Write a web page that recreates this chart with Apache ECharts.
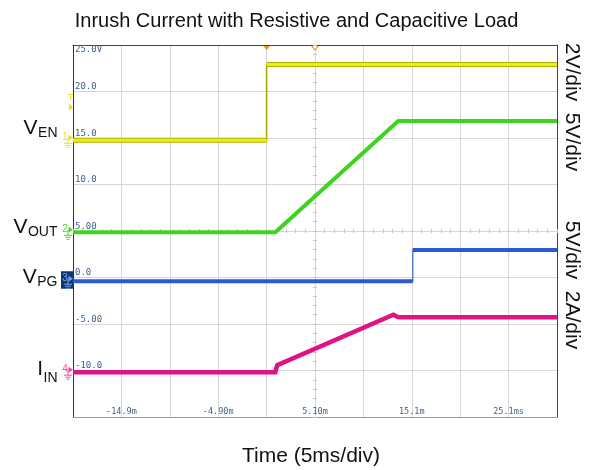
<!DOCTYPE html>
<html>
<head>
<meta charset="utf-8">
<script src="https://cdn.jsdelivr.net/npm/echarts@6/dist/echarts.min.js"></script>
<style>
  html, body { margin: 0; padding: 0; background: #fff; }
  #chart { width: 593px; height: 470px; }
</style>
</head>
<body>
<div id="chart"></div>
<script>
// ---- data (time in ms from the left edge of the screen, 5 ms/div) ----
const timeEN = [0, 20.0, 20.0, 50];
const valEN = [14.75, 14.75, 22.9, 22.9];
const timeOUT = [0, 20.9, 33.6, 50];
const valOUT = [4.86, 4.86, 16.83, 16.83];
const timePG = [0, 35.1, 35.1, 50];
const valPG = [-0.4, -0.4, 2.95, 2.95];
const timeIN = [0, 20.9, 21.1, 33.1, 33.6, 50];
const valIN = [-10.18, -10.18, -9.42, -4.0, -4.27, -4.27];

const yTickValues = [-15, -10, -5, 0, 5, 10, 15, 20, 25];
const yTickLabels = ['', '-10.0', '-5.00', '0.0', '5.00', '10.0', '15.0', '20.0', '25.0V'];
const xTickLabels = ['', '-14.9m', '', '-4.90m', '', '5.10m', '', '15.1m', '', '25.1ms', ''];

// ---- layout ----
const GRID = { left: 73, top: 45, width: 484, height: 372 };
const FONT = '"Liberation Sans", Arial, sans-serif';
const MONO = '"DejaVu Sans Mono", monospace';
const LABEL_COLOR = '#3f5f8f';
const GRID_COLOR = '#d6d6d6';

const zip = (t, v) => t.map((x, i) => [x, v[i]]);
// break a trace where it jumps vertically (drawn thin separately)
const breakSteps = (t, v) => {
    const out = [];
    t.forEach((x, i) => {
        if (i > 0 && x === t[i - 1]) out.push([x, '-']);
        out.push([x, v[i]]);
    });
    return out;
};
const yLabel = (v) => {
    const i = yTickValues.indexOf(Math.round(v));
    return i < 0 ? '' : yTickLabels[i];
};

const chart = echarts.init(document.getElementById('chart'));

const lineSeries = (data, color, width, z) => ({
    type: 'line',
    data: data,
    showSymbol: false,
    symbol: 'none',
    connectNulls: false,
    silent: true,
    z: z,
    lineStyle: { color: color, width: width, cap: 'butt', join: 'miter' }
});

chart.setOption({
    animation: false,
    backgroundColor: '#fff',
    title: {
        text: 'Inrush Current with Resistive and Capacitive Load',
        left: 'center',
        top: 6,
        textStyle: { fontFamily: FONT, fontSize: 20, fontWeight: 'normal', color: '#111' }
    },
    grid: Object.assign({ show: false, outerBoundsMode: 'none' }, GRID),
    xAxis: [
        {
            type: 'value', min: 0, max: 50, interval: 5,
            axisLine: { show: true, onZero: false, lineStyle: { color: '#999', width: 1 } },
            axisTick: { show: false },
            splitLine: { show: true, lineStyle: { color: GRID_COLOR, width: 1 } },
            axisLabel: {
                inside: true, margin: 1, verticalAlign: 'bottom',
                fontFamily: MONO, fontSize: 8.5, color: LABEL_COLOR,
                formatter: (v) => xTickLabels[Math.round(v / 5)] || ''
            }
        },
        {
            // minor ticks on the horizontal centre line
            type: 'value', min: 0, max: 50, interval: 1, position: 'top',
            offset: -(GRID.height / 2 + 2),
            axisLine: { show: false, onZero: false }, axisLabel: { show: false }, splitLine: { show: false },
            axisTick: { show: true, length: 4, lineStyle: { color: '#c4c4c4' } }
        },
        {
            type: 'value', min: 0, max: 50, position: 'top',
            axisLine: { show: true, onZero: false, lineStyle: { color: '#444' } },
            axisLabel: { show: false }, axisTick: { show: false }, splitLine: { show: false }
        }
    ],
    yAxis: [
        {
            type: 'value', min: -15, max: 25, interval: 5, position: 'left',
            axisLine: { show: true, onZero: false, lineStyle: { color: '#333', width: 1 } },
            axisTick: { show: false },
            splitLine: { show: true, lineStyle: { color: GRID_COLOR, width: 1 } },
            axisLabel: {
                inside: true, margin: 2, align: 'left', verticalAlign: 'bottom',
                fontFamily: MONO, fontSize: 9, color: LABEL_COLOR,
                formatter: (v) => (v >= 25 ? '' : yLabel(v))
            }
        },
        {
            // top label sits under the top edge
            type: 'value', min: -15, max: 25, interval: 5, position: 'left',
            axisLine: { show: false, onZero: false }, axisTick: { show: false }, splitLine: { show: false },
            axisLabel: {
                inside: true, margin: 2, align: 'left', verticalAlign: 'top',
                fontFamily: MONO, fontSize: 9, color: LABEL_COLOR,
                formatter: (v) => (v >= 25 ? yLabel(v) : '')
            }
        },
        {
            // minor ticks on the vertical centre line
            type: 'value', min: -15, max: 25, interval: 1, position: 'left',
            offset: -(GRID.width / 2 + 2),
            axisLine: { show: false, onZero: false }, axisLabel: { show: false }, splitLine: { show: false },
            axisTick: { show: true, length: 4, lineStyle: { color: '#c4c4c4' } }
        },
        {
            type: 'value', min: -15, max: 25, position: 'right',
            axisLine: { show: true, onZero: false, lineStyle: { color: '#444' } },
            axisLabel: { show: false }, axisTick: { show: false }, splitLine: { show: false }
        }
    ],
    series: [
        // CH1 V_EN
        lineSeries(zip(timeEN, valEN), '#a9a900', 1.6, 2),
        lineSeries(breakSteps(timeEN, valEN), '#b0b000', 5, 3),
        lineSeries(breakSteps(timeEN, valEN), '#eeee10', 3, 4),
        // CH2 V_OUT
        lineSeries(zip(timeOUT, valOUT), '#3ed41e', 4, 5),
        // CH3 V_PG
        lineSeries(zip(timePG, valPG), '#5a7fd0', 1.5, 6),
        lineSeries(breakSteps(timePG, valPG), '#2c5ad4', 4, 7),
        // CH4 I_IN
        lineSeries(zip(timeIN, valIN), '#df1386', 4.5, 8)
    ]
});

// ---- decorations: channel names, scale text, markers ----
const ctx = document.createElement('canvas').getContext('2d');
const textW = (t, size) => { ctx.font = size + 'px ' + FONT; return ctx.measureText(t).width; };
const px = (t) => chart.convertToPixel({ xAxisIndex: 0 }, t);
const py = (v) => chart.convertToPixel({ yAxisIndex: 0 }, v);

const names = [
    { main: 'V', sub: 'EN', y: 128.5, ys: 133.5 },
    { main: 'V', sub: 'OUT', y: 227.5, ys: 232.5 },
    { main: 'V', sub: 'PG', y: 277.5, ys: 282.5 },
    { main: 'I', sub: 'IN', y: 369.5, ys: 378 }
];
const subRight = 57.5;
const g = [];
names.forEach((n) => {
    g.push({ type: 'text', x: subRight, y: n.ys,
        style: { text: n.sub, font: '14px ' + FONT, fill: '#111', align: 'right', verticalAlign: 'middle' } });
    g.push({ type: 'text', x: subRight - textW(n.sub, 14) - 0.5, y: n.y,
        style: { text: n.main, font: '21px ' + FONT, fill: '#111', align: 'right', verticalAlign: 'middle' } });
});

g.push({ type: 'text', x: 572, y: 107, rotation: -Math.PI / 2,
    style: { text: '2V/div  5V/div', font: '21px ' + FONT, fill: '#111', align: 'center', verticalAlign: 'middle' } });
g.push({ type: 'text', x: 572, y: 285, rotation: -Math.PI / 2,
    style: { text: '5V/div  2A/div', font: '21px ' + FONT, fill: '#111', align: 'center', verticalAlign: 'middle' } });
g.push({ type: 'text', x: 311, y: 456,
    style: { text: 'Time (5ms/div)', font: '21px ' + FONT, fill: '#111', align: 'center', verticalAlign: 'middle' } });

// channel ground markers at the left edge
const x0 = GRID.left;
const marker = (num, y, color, boxed) => {
    if (boxed) {
        g.push({ type: 'rect', shape: { x: x0 - 12, y: y - 10, width: 12, height: 17.5 },
            style: { fill: '#0f3573' } });
    }
    g.push({ type: 'text', x: x0 - 8, y: y - 3,
        style: { text: num, font: '10px ' + FONT, fill: color, align: 'center', verticalAlign: 'middle' } });
    g.push({ type: 'polygon', shape: { points: [[x0 - 4.5, y - 5.5], [x0, y - 2.5], [x0 - 4.5, y + 0.5]] },
        style: { fill: color } });
    g.push({ type: 'polyline', shape: { points: [[x0 - 5, y - 2.5], [x0 - 5, y + 3]] },
        style: { stroke: color, lineWidth: 1, fill: null } });
    [[4, 3], [2.8, 5], [1.5, 7]].forEach(([w, dy]) => {
        g.push({ type: 'polyline', shape: { points: [[x0 - 5 - w, y + dy], [x0 - 5 + w, y + dy]] },
            style: { stroke: color, lineWidth: 1, fill: null } });
    });
};
marker('1', py(valEN[0]), '#e6e600', false);
marker('2', py(valOUT[0]), '#44dd22', false);
marker('3', py(valPG[0]), '#7aa0f0', true);
marker('4', py(valIN[0]), '#f04aa8', false);

// trigger level marker
g.push({ type: 'text', x: x0 - 2.5, y: 98,
    style: { text: 'T', font: '9px ' + FONT, fill: '#e6e600', align: 'center', verticalAlign: 'middle' } });
g.push({ type: 'polygon', shape: { points: [[x0 - 4, 104], [x0, 107.3], [x0 - 4, 110.7]] },
    style: { fill: '#e6e600' } });

// trigger position (filled) and screen centre (hollow) on the top edge
const xt = px(timeEN[1]);
const xc = px(25);
g.push({ type: 'polygon', shape: { points: [[xt - 4, GRID.top], [xt + 4, GRID.top], [xt, GRID.top + 5.5]] },
    style: { fill: '#f5951e' } });
g.push({ type: 'polygon', shape: { points: [[xc - 3.5, GRID.top + 0.5], [xc + 3.5, GRID.top + 0.5], [xc, GRID.top + 5]] },
    style: { fill: '#fff', stroke: '#f5951e', lineWidth: 1.2 } });

chart.setOption({ graphic: { elements: g } });
</script>
</body>
</html>
